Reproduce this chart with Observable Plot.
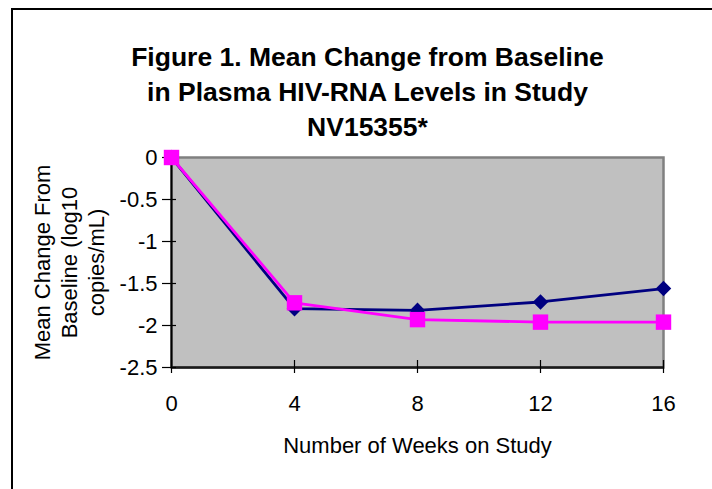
<!DOCTYPE html>
<html>
<head>
<meta charset="utf-8">
<script src="https://cdn.jsdelivr.net/npm/d3@7"></script>
<script src="https://cdn.jsdelivr.net/npm/@observablehq/plot@0.6"></script>
<style>
  html, body { margin: 0; padding: 0; background: #fff; overflow: hidden; }
  #page { position: relative; width: 712px; height: 489px; overflow: hidden; font-family: "Liberation Sans", Arial, sans-serif; }
  #frame { position: absolute; left: 11px; top: 8px; width: 760px; height: 560px; border-left: 2px solid #000; border-top: 2px solid #000; box-sizing: border-box; }
  #title { position: absolute; left: 0; top: 40px; width: 735px; text-align: center; font-weight: bold; font-size: 26.5px; line-height: 35px; color: #000; }
  #chart { position: absolute; left: 0; top: 0; }
</style>
</head>
<body>
<div id="page">
  <div id="frame"></div>
  <div id="chart"></div>
  <div id="title">Figure 1. Mean Change from Baseline<br>in Plasma HIV-RNA Levels in Study<br>NV15355*</div>
</div>
<script>
const weeks = [0, 4, 8, 12, 16];
const seriesNavy = [0, -1.80, -1.82, -1.72, -1.56];
const seriesMagenta = [0, -1.73, -1.93, -1.96, -1.96];
const xTicks = [0, 4, 8, 12, 16];
const yTicks = [0, -0.5, -1, -1.5, -2, -2.5];
const xTitle = "Number of Weeks on Study";
const yTitle = "Mean Change From\nBaseline (log10\ncopies/mL)";

const navyRows = weeks.map((w, i) => ({week: w, value: seriesNavy[i]}));
const magentaRows = weeks.map((w, i) => ({week: w, value: seriesMagenta[i]}));

const chart = Plot.plot({
  width: 712,
  height: 489,
  marginLeft: 171,
  marginRight: 49,
  marginTop: 157,
  marginBottom: 122,
  style: {fontFamily: "'Liberation Sans', Arial, sans-serif", fontSize: "22px", color: "#000", background: "transparent", overflow: "visible"},
  x: {domain: [0, 16], label: null},
  y: {domain: [-2.5, 0], label: null},
  marks: [
    Plot.frame({fill: "#C0C0C0", stroke: "#808080", strokeWidth: 2.5}),
    Plot.ruleX([0], {stroke: "#000", strokeWidth: 2}),
    Plot.ruleY([-2.5], {stroke: "#1a1a1a", strokeWidth: 2.5}),
    Plot.axisY({ticks: yTicks, tickSize: 14, dx: 5, stroke: "#000", strokeWidth: 1.2, tickFormat: () => "", label: null}),
    Plot.axisY({ticks: yTicks, tickSize: 0, tickPadding: 14, fontSize: 22, fill: "#000", tickFormat: d => String(d), label: null}),
    Plot.axisX({ticks: xTicks, tickSize: 13, dy: -7, stroke: "#000", strokeWidth: 1.2, tickFormat: () => "", label: null}),
    Plot.axisX({ticks: xTicks, tickSize: 0, tickPadding: 28, fontSize: 22, fill: "#000", tickFormat: d => String(d), label: null}),
    Plot.line(navyRows, {x: "week", y: "value", stroke: "#000080", strokeWidth: 2.8}),
    Plot.dot(navyRows, {x: "week", y: "value", symbol: "diamond2", r: 7, fill: "#000080", stroke: "none"}),
    Plot.line(magentaRows, {x: "week", y: "value", stroke: "#FF00FF", strokeWidth: 2.8}),
    Plot.dot(magentaRows, {x: "week", y: "value", symbol: "square", r: 8.7, fill: "#FF00FF", stroke: "none"}),
    Plot.text([yTitle], {frameAnchor: "left", rotate: -90, dx: -103, fontSize: 22, lineHeight: 1.22, textAnchor: "middle", lineAnchor: "middle", fill: "#000"}),
    Plot.text([xTitle], {frameAnchor: "bottom", dy: 78, fontSize: 22, textAnchor: "middle", lineAnchor: "middle", fill: "#000"})
  ]
});
document.getElementById("chart").appendChild(chart);
</script>
</body>
</html>
